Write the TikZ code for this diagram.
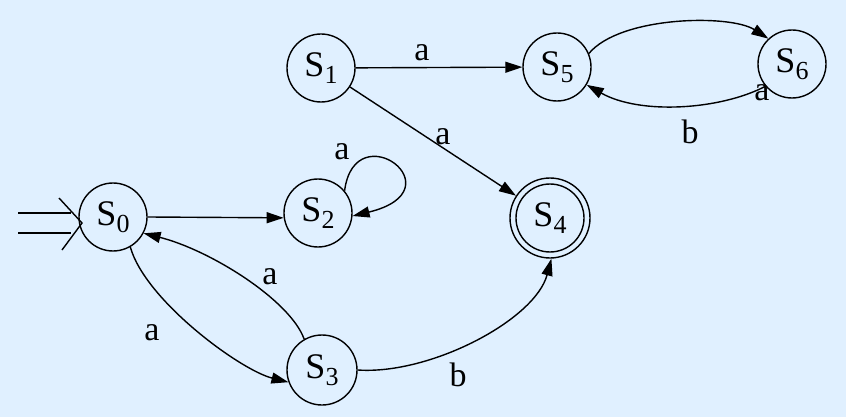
\documentclass[tikz,border=0pt]{standalone}
\usepackage{fontspec}
\setmainfont{Liberation Serif}
\usetikzlibrary{arrows.meta}
\definecolor{bg}{RGB}{224,240,255}
\newcommand{\stname}[1]{S\raisebox{-7pt}{\fontsize{26}{28}\selectfont #1}}
\begin{document}
\begin{tikzpicture}[x=1pt,y=-1pt, line width=1.4pt,
  state/.style={circle,draw,minimum size=68pt,inner sep=0pt,font=\fontsize{36}{40}\selectfont},
  lbl/.style={inner sep=0pt,font=\fontsize{34}{36}\selectfont},
  arr/.style={-{Triangle[length=17pt,width=11pt]}}]
\fill[bg] (0,0) rectangle (846,417);
\useasboundingbox (0,0) rectangle (846,417);

\node[state] (S0) at (113,217) {\stname{0}};
\node[state] (S1) at (321,68) {\stname{1}};
\node[state] (S2) at (318,213) {\stname{2}};
\node[state,minimum size=70pt] (S3) at (322,370) {\stname{3}};
\node[state,minimum size=80pt] (S4) at (550,218) {\stname{4}};
\draw (S4.center) circle (34pt);
\node[state] (S5) at (557,67) {\stname{5}};
\node[state] (S6) at (792,64) {\stname{6}};

% start arrow
\coordinate (in1a) at (18,213);
\coordinate (in1b) at (71,213);
\coordinate (in2a) at (18,233);
\coordinate (in2b) at (71,233);
\coordinate (ch1) at (59,198);
\coordinate (ch2) at (62,250);
\coordinate (tip) at (82,223);
\draw (in1a) -- (in1b);
\draw (in2a) -- (in2b);
\draw (ch1) -- (tip) -- (ch2);

% edges
\draw[arr] (S0.east) -- (S2.188);
\draw[arr] (S2.40) .. controls (355,112) and (460,190) .. (S2.-5);
\draw[arr] (S0.-60) .. controls (145,300) and (240,370) .. (S3.200);
\draw[arr] (S3.120) .. controls (290,300) and (210,250) .. (S0.-28);
\draw[arr] (S3.0) .. controls (430,375) and (535,320) .. (S4.-88);
\draw[arr] (S1) -- (S5);
\draw[arr] (S1) -- (S4);
\draw[arr] (S5.23) .. controls (620,16) and (730,14) .. (S6.133);
\draw[arr] (S6.220) .. controls (720,110) and (640,115) .. (S5.-31);

% labels
\node[lbl] (la1) at (422,53) {a};
\node[lbl] (la2) at (443,137) {a};
\node[lbl] (la3) at (342,152) {a};
\node[lbl] (la4) at (152,333) {a};
\node[lbl] (la5) at (270,277) {a};
\node[lbl] (lb1) at (458,375) {b};
\node[lbl] (lb2) at (690,132) {b};
\node[lbl] (la6) at (762,93) {a};
\end{tikzpicture}
\end{document}
